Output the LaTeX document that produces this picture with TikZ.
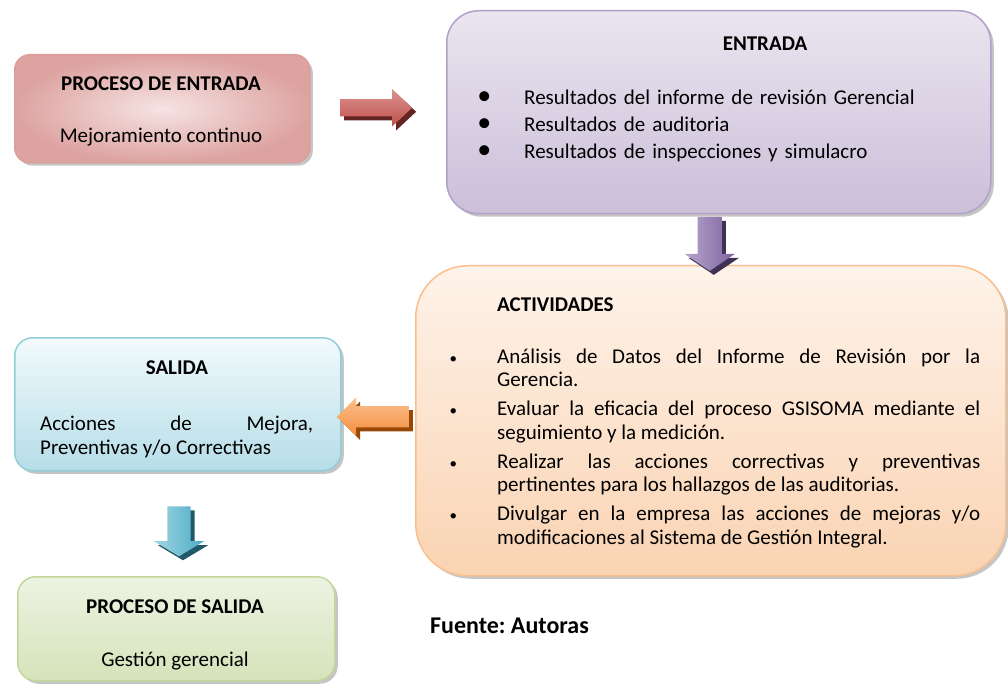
\documentclass[tikz,border=0pt]{standalone}
\usepackage{fontspec}
\setmainfont{Carlito}
\frenchspacing
\usetikzlibrary{calc,shapes.arrows,shadows}

\definecolor{redin}{HTML}{F5E4E3}
\definecolor{redout}{HTML}{DDA3A1}
\definecolor{redline}{HTML}{DB9E9C}
\definecolor{purtop}{HTML}{EAE5F0}
\definecolor{purbot}{HTML}{CBBFD9}
\definecolor{purline}{HTML}{B1A0C7}
\definecolor{oratop}{HTML}{FEF3EA}
\definecolor{orabot}{HTML}{FAD3B2}
\definecolor{oraline}{HTML}{F9BF8F}
\definecolor{blutop}{HTML}{F2FAFC}
\definecolor{blubot}{HTML}{B6DDE8}
\definecolor{bluline}{HTML}{92CDDC}
\definecolor{gretop}{HTML}{EDF3E2}
\definecolor{grebot}{HTML}{D5E3BA}
\definecolor{greline}{HTML}{C3D69B}
\definecolor{arrred}{HTML}{C0504D}
\definecolor{arrredlt}{HTML}{DB928F}
\definecolor{arrredsh}{HTML}{632523}
\definecolor{arrpur}{HTML}{7E62A0}
\definecolor{arrpurlt}{HTML}{B6A6CB}
\definecolor{arrpursh}{HTML}{3F3151}
\definecolor{arrora}{HTML}{F68E3C}
\definecolor{arroralt}{HTML}{FAC090}
\definecolor{arrorash}{HTML}{984807}
\definecolor{arrblu}{HTML}{4BACC6}
\definecolor{arrblult}{HTML}{A2D5E3}
\definecolor{arrblush}{HTML}{215968}

\tikzset{
  box/.style={draw, line width=1.5pt, anchor=north west, inner sep=0pt,
    drop shadow={shadow xshift=3pt, shadow yshift=-3pt, fill=black!45, opacity=.5}},
  txt/.style={inner sep=0pt, font=\fontsize{21}{24}\selectfont},
  ttl/.style={inner sep=0pt, font=\fontsize{21}{24}\selectfont\bfseries},
  blockarrow/.style={single arrow, draw=none, minimum width=0pt, inner sep=#1},
  arrshadow/.style={drop shadow={shadow xshift=4pt, shadow yshift=-4pt,
    fill=#1, opacity=1}}
}

\newcommand{\entitem}{\leavevmode\llap{{\fontsize{28}{27}\selectfont\textbullet}\hspace{33pt}}}
\newcommand{\actitem}[1]{\noindent\llap{{\fontsize{15}{15}\selectfont\textbullet}\hspace{40pt}}#1\par\vspace{5.5pt}}

\begin{document}
\begin{tikzpicture}[x=1pt, y=-1pt]
  \useasboundingbox (0,0) rectangle (1008,684);

  % boxes
  \node[box, draw=redline, inner color=redin, outer color=redout, rounded corners=15pt,
        minimum width=295pt, minimum height=108pt] (entproc) at (14,54) {};
  \node[box, draw=purline, top color=purtop, bottom color=purbot, rounded corners=32pt,
        minimum width=544pt, minimum height=203pt] (entrada) at (446,10) {};
  \node[box, draw=oraline, top color=oratop, bottom color=orabot, rounded corners=52pt,
        minimum width=590pt, minimum height=310pt] (activ) at (415,265) {};
  \node[box, draw=bluline, top color=blutop, bottom color=blubot, rounded corners=18pt,
        minimum width=326pt, minimum height=133pt] (salida) at (14,337) {};
  \node[box, draw=greline, top color=gretop, bottom color=grebot, rounded corners=18pt,
        minimum width=317pt, minimum height=104pt] (salproc) at (17,576) {};

  % texts
  \node[ttl, anchor=base] (entproc-t) at (161,91) {PROCESO DE ENTRADA};
  \node[txt, anchor=base] (entproc-s) at (161,143) {Mejoramiento continuo};

  \node[ttl, anchor=base] (entrada-t) at (765,51) {ENTRADA};
  \node[txt, anchor=base west, text width=440pt, align=left,
        font=\fontsize{21}{27}\selectfont] (entrada-l) at (524,105) {%
    \entitem Resultados del informe de revisión Gerencial\\
    \entitem Resultados de auditoria\\
    \entitem Resultados de inspecciones y simulacro};

  \node[ttl, anchor=base west] (activ-t) at (497,312) {ACTIVIDADES};
  \node[txt, anchor=base west, text width=483pt, align=justify,
        font=\fontsize{21}{23.5}\selectfont] (activ-l) at (497,363) {%
    \actitem{Análisis de Datos del Informe de Revisión por la\linebreak Gerencia.}
    \actitem{Evaluar la eficacia del proceso GSISOMA mediante el\linebreak seguimiento y la medición.}
    \actitem{Realizar las acciones correctivas y preventivas\linebreak pertinentes para los hallazgos de las auditorias.}
    \actitem{Divulgar en la empresa las acciones de mejoras y/o\linebreak modificaciones al Sistema de Gestión Integral.}};

  \node[ttl, anchor=base] (salida-t) at (177,374) {SALIDA};
  \node[txt, anchor=base west, text width=273pt, align=justify] (salida-l) at (40,430)
    {Acciones de Mejora,\linebreak Preventivas y/o Correctivas};

  \node[ttl, anchor=base] (salproc-t) at (175,613) {PROCESO DE SALIDA};
  \node[txt, anchor=base] (salproc-s) at (175,666) {Gestión gerencial};

  \node[inner sep=0pt, anchor=base west, font=\fontsize{24}{28}\selectfont\bfseries]
    (fuente) at (430,633) {Fuente: Autoras};

  % block arrows
  \node[blockarrow=8.5pt, minimum height=72pt, single arrow head extend=10pt,
        single arrow tip angle=86, top color=arrredlt, bottom color=arrred,
        arrshadow=arrredsh] (a1) at ($(entproc.east)!.45!(entrada.west |- entproc.east)+(0,-1)$) {};
  \node[blockarrow=12pt, minimum height=54pt, single arrow head extend=13pt,
        shape border rotate=270,
        single arrow tip angle=112, left color=arrpurlt, right color=arrpur,
        arrshadow=arrpursh] (a2) at ($(entrada.south)!.5!(activ.north)+(-5,0)$) {};
  \node[blockarrow=10.5pt, minimum height=72pt, single arrow head extend=8.5pt,
        shape border rotate=180,
        single arrow tip angle=90, top color=arroralt, bottom color=arrora,
        arrshadow=arrorash] (a3) at ($(salida.east |- activ.west)!.5!(activ.west)+(0,-4)$) {};
  \node[blockarrow=11.5pt, minimum height=50pt, single arrow head extend=13.5pt,
        shape border rotate=270,
        single arrow tip angle=118, left color=arrblult, right color=arrblu,
        arrshadow=arrblush] (a4) at ($(salida.south)!.5!(salproc.north)+(2,4)$) {};
\end{tikzpicture}
\end{document}
